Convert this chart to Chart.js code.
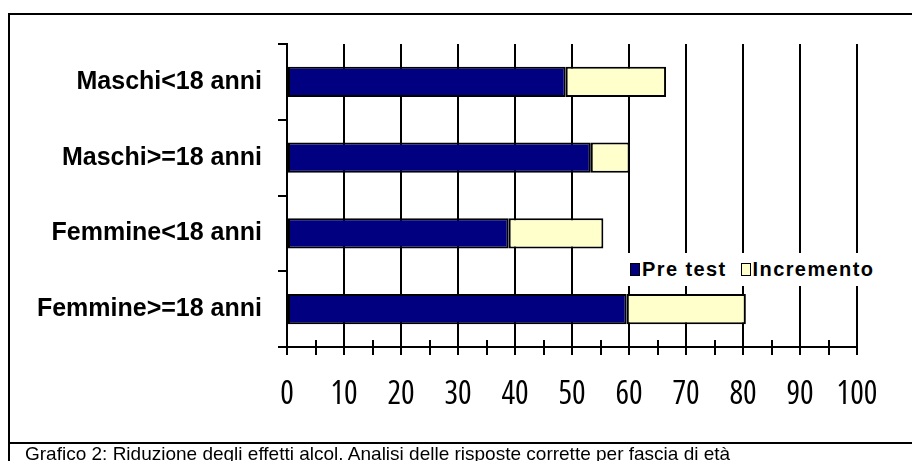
<!DOCTYPE html>
<html lang="it">
<head>
<meta charset="utf-8">
<title>Grafico 2</title>
<script src="https://cdn.jsdelivr.net/npm/chart.js@4.4.1/dist/chart.umd.min.js"></script>
<style>
  html, body { margin: 0; padding: 0; background: #fff; }
  #wrap { position: relative; width: 912px; height: 461px; overflow: hidden; background: #fff; }
  #frame { position: absolute; left: 8px; top: 13px; width: 920px; height: 427px;
           border-left: 2px solid #000; border-top: 2px solid #000; border-bottom: 2px solid #000; }
  #capbox { position: absolute; left: 8px; top: 444px; width: 920px; height: 30px; border-left: 2px solid #000; }
  #caption { position: absolute; left: 25px; top: 444px; font: 19px "Liberation Sans", Arial, sans-serif;
             color: #000; white-space: nowrap; line-height: 19px; }
  canvas { position: absolute; left: 0; top: 0; }
  #legend { position: absolute; left: 626px; top: 253px; width: 258px; height: 33px; background: #fff;
            font: bold 20px "Liberation Sans", Arial, sans-serif; letter-spacing: 1.4px;
            display: flex; align-items: center; white-space: nowrap; }
  #legend .sw { display: inline-block; width: 8px; height: 11px; border: 1.5px solid #000; margin: 0 2px 0 4px; }
  #legend .item { display: flex; align-items: center; margin-right: 10px; }
</style>
</head>
<body>
<div id="wrap">
  <div id="frame"></div>
  <div id="capbox"></div>
  <canvas id="chart" width="912" height="461"></canvas>
  <div id="legend"></div>
  <div id="caption">Grafico 2: Riduzione degli effetti alcol. Analisi delle risposte corrette per fascia di età</div>
</div>
<script>
// Fasce di età (dall'alto verso il basso)
const categories = ["Maschi<18 anni", "Maschi>=18 anni", "Femmine<18 anni", "Femmine>=18 anni"];
// Percentuale di risposte corrette al pre test
const preTest = [48.9, 53.3, 38.9, 59.6];
// Incremento dopo l'intervento
const incremento = [17.6, 6.8, 16.6, 20.9];
const seriesNames = ["Pre test", "Incremento"];
const seriesColors = ["#000080", "#FFFFCC"];

// Tick marks at every 5 units crossing the value axis (the upper half; the lower half is drawn by Chart.js)
const crossTicks = {
  id: 'crossTicks',
  afterDraw(chart) {
    const x = chart.scales.x, ctx = chart.ctx;
    ctx.save();
    ctx.strokeStyle = '#000';
    ctx.lineWidth = 2;
    for (let v = 0; v <= 100; v += 5) {
      const px = Math.round(x.getPixelForValue(v));
      ctx.beginPath();
      ctx.moveTo(px, x.top - 7);
      ctx.lineTo(px, x.top);
      ctx.stroke();
    }
    ctx.restore();
  }
};

const chart = new Chart(document.getElementById('chart'), {
  type: 'bar',
  data: {
    labels: categories,
    datasets: [
      { label: seriesNames[0], data: preTest, backgroundColor: seriesColors[0] },
      { label: seriesNames[1], data: incremento, backgroundColor: seriesColors[1] }
    ]
  },
  options: {
    indexAxis: 'y',
    responsive: false,
    animation: false,
    events: [],
    layout: { padding: { top: 44, right: 55, left: 0, bottom: 0 } },
    datasets: {
      bar: {
        borderColor: '#000', borderWidth: 2, borderSkipped: false,
        barPercentage: 0.4, categoryPercentage: 1
      }
    },
    plugins: { legend: { display: false }, tooltip: { enabled: false } },
    scales: {
      x: {
        stacked: true, min: 0, max: 100,
        afterFit(s) { s.height = 114; },
        border: { display: true, color: '#000', width: 2 },
        grid: {
          color: c => (c.tick && c.tick.value % 10 === 0) ? '#000' : 'rgba(0,0,0,0)',
          tickColor: '#000', lineWidth: 2, tickLength: 8, drawTicks: true
        },
        ticks: {
          stepSize: 5, autoSkip: false, maxRotation: 0, color: '#000', padding: 21,
          // font-stretch travels in the weight slot of the canvas font string
          font: { family: '"Open Sans", sans-serif', size: 32, weight: 'condensed' },
          callback: v => (v % 10 === 0 ? String(v) : '')
        }
      },
      y: {
        stacked: true,
        afterFit(s) { s.width = 287; },
        border: { display: true, color: '#000', width: 2 },
        grid: { offset: true, drawOnChartArea: false, tickLength: 9, tickColor: '#000', lineWidth: 2 },
        ticks: { color: '#000', padding: 16, font: { family: '"Liberation Sans", Arial, sans-serif', size: 25, weight: 'bold' } }
      }
    }
  },
  plugins: [crossTicks]
});

// Legend box built from the dataset names and colours
const lg = document.getElementById('legend');
chart.data.datasets.forEach(ds => {
  const it = document.createElement('span');
  it.className = 'item';
  const sw = document.createElement('span');
  sw.className = 'sw';
  sw.style.background = ds.backgroundColor;
  it.appendChild(sw);
  it.appendChild(document.createTextNode(ds.label));
  lg.appendChild(it);
});
</script>
</body>
</html>
